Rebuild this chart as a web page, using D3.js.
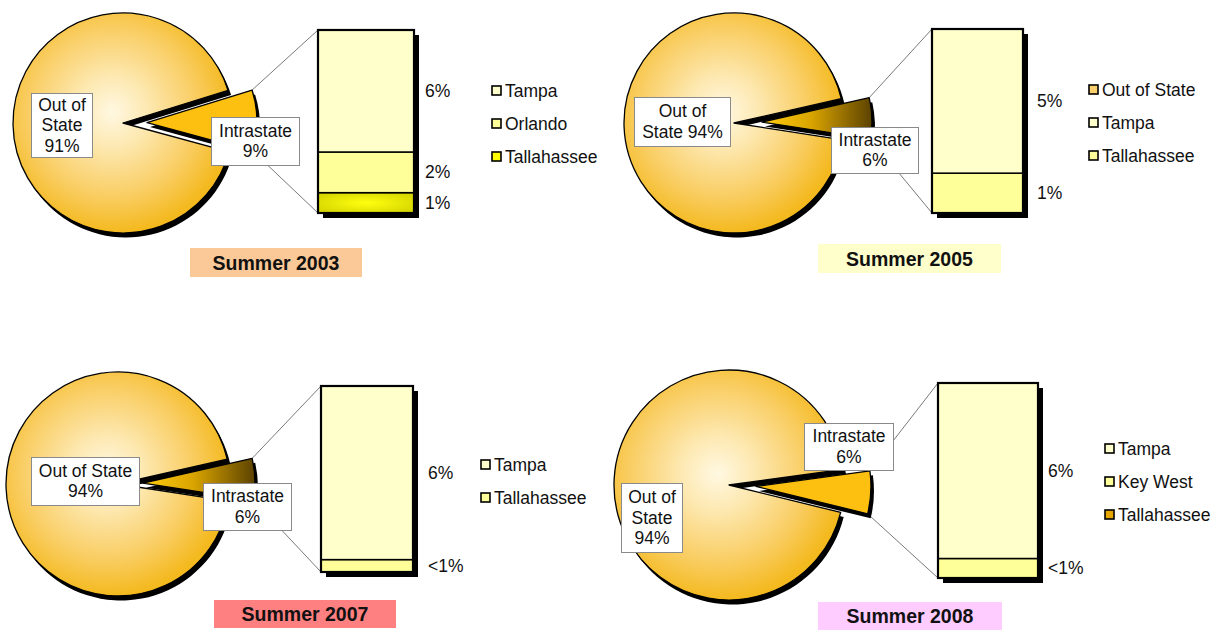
<!DOCTYPE html>
<html><head><meta charset="utf-8">
<script src="https://cdn.jsdelivr.net/npm/d3@7"></script>
<style>
html,body{margin:0;padding:0;background:#fff;}
svg{display:block;font-family:Arial,"Liberation Sans",sans-serif;}
</style></head>
<body><svg id="chart" width="1225" height="634"></svg>
<script>
// ---------- DATA ----------
const titles = ["Summer 2003", "Summer 2005", "Summer 2007", "Summer 2008"];
const outOfState = [91, 94, 94, 94];
const intrastate = [9, 6, 6, 6];

const cities2003 = ["Tampa", "Orlando", "Tallahassee"];
const values2003 = [6, 2, 1];
const labels2003 = ["6%", "2%", "1%"];

const cities2005 = ["Tampa", "Tallahassee"];
const values2005 = [4.7, 1.3];
const labels2005 = ["5%", "1%"];
const legend2005 = ["Out of State", "Tampa", "Tallahassee"];

const cities2007 = ["Tampa", "Tallahassee"];
const values2007 = [5.6, 0.4];
const labels2007 = ["6%", "<1%"];

const cities2008 = ["Tampa", "Key West", "Tallahassee"];
const values2008 = [5.4, 0.6, 0];
const labels2008 = ["6%", "<1%", ""];

const outLabelLines = [["Out of", "State", "91%"], ["Out of", "State 94%"], ["Out of State", "94%"], ["Out of", "State", "94%"]];
const inLabelLines = [["Intrastate", "9%"], ["Intrastate", "6%"], ["Intrastate", "6%"], ["Intrastate", "6%"]];

// ---------- STYLE / LAYOUT ----------
const cityColor = {
  "2003": {"Tampa": "#ffffcc", "Orlando": "#ffff99", "Tallahassee": "#ffff00"},
  "2005": {"Out of State": "#f9cf6e", "Tampa": "#ffffcc", "Tallahassee": "#ffff99"},
  "2007": {"Tampa": "#ffffcc", "Tallahassee": "#ffff99"},
  "2008": {"Tampa": "#ffffcc", "Key West": "#ffff99", "Tallahassee": "#e6a800"}
};

const panels = [
  {key: "2003", cities: cities2003, values: values2003, labels: labels2003, legend: cities2003,
   cx: 123, cy: 123, r: 110, bis: -1, explode: 24, wedge: "solid",
   bar: {x: 318, w: 96, top: 30, bottom: 213}, pctX: 425,
   leg: {x: 492, y: 91, dy: 33},
   title: {x: 190, y: 248, w: 172, h: 29, fill: "#fbc997"},
   outBox: {x: 31, y: 93, w: 61, h: 64}, inBox: {x: 211, y: 117, w: 88, h: 48}},
  {key: "2005", cities: cities2005, values: values2005, labels: labels2005, legend: legend2005,
   cx: 734, cy: 123, r: 110, bis: -2, explode: 28, wedge: "grad",
   bar: {x: 932, w: 91, top: 29, bottom: 213}, pctX: 1037,
   leg: {x: 1089, y: 90, dy: 33},
   title: {x: 818, y: 244, w: 183, h: 29, fill: "#ffffcc"},
   outBox: {x: 634, y: 97, w: 96, h: 49}, inBox: {x: 831, y: 127, w: 87, h: 46}},
  {key: "2007", cities: cities2007, values: values2007, labels: labels2007, legend: cities2007,
   cx: 118, cy: 484, r: 112, bis: -2, explode: 25, wedge: "grad",
   bar: {x: 321, w: 92, top: 386, bottom: 572}, pctX: 428,
   leg: {x: 481, y: 465, dy: 33},
   title: {x: 214, y: 600, w: 182, h: 28, fill: "#ff8080"},
   outBox: {x: 31, y: 457, w: 108, h: 48}, inBox: {x: 203, y: 483, w: 88, h: 47}},
  {key: "2008", cities: cities2008, values: values2008, labels: labels2008, legend: cities2008,
   cx: 729, cy: 485, r: 115, bis: 3, explode: 27, wedge: "solid",
   bar: {x: 938, w: 100, top: 383, bottom: 578}, pctX: 1048,
   leg: {x: 1105, y: 449, dy: 33},
   title: {x: 818, y: 602, w: 184, h: 28, fill: "#ffccff"},
   outBox: {x: 621, y: 483, w: 61, h: 69}, inBox: {x: 804, y: 423, w: 89, h: 47}}
];

const svg = d3.select("#chart");
const defs = svg.append("defs");

// wedge gradient (gold -> dark)
const wg = defs.append("linearGradient").attr("id", "wedgeGrad").attr("x1", 0).attr("x2", 1).attr("y1", 0).attr("y2", 0);
wg.append("stop").attr("offset", 0).attr("stop-color", "#ffcc10");
wg.append("stop").attr("offset", 0.45).attr("stop-color", "#d9a400");
wg.append("stop").attr("offset", 1).attr("stop-color", "#5c4200");

// yellow bar gradient
const yg = defs.append("radialGradient").attr("id", "yellowGrad").attr("cx", 0.5).attr("cy", 0.5).attr("r", 0.6);
yg.append("stop").attr("offset", 0).attr("stop-color", "#ffff10");
yg.append("stop").attr("offset", 1).attr("stop-color", "#d6d600");

// pie radial gradient
const rg = defs.append("radialGradient").attr("id", "pieGrad")
  .attr("cx", 0.45).attr("cy", 0.45).attr("r", 0.55);
rg.append("stop").attr("offset", 0).attr("stop-color", "#fff8e2");
rg.append("stop").attr("offset", 0.3).attr("stop-color", "#fde8b0");
rg.append("stop").attr("offset", 0.7).attr("stop-color", "#f9cd62");
rg.append("stop").attr("offset", 1).attr("stop-color", "#f4b91e");

const FS = 17.5;

panels.forEach((p, i) => {
  const g = svg.append("g");

  const w = intrastate[i] / (intrastate[i] + outOfState[i]) * 2 * Math.PI;
  const b = p.bis * Math.PI / 180;
  const start = b + Math.PI / 2 - w / 2;
  const pie = d3.pie().sort(null).value(d => d.v).startAngle(start).endAngle(start + 2 * Math.PI);
  const arcs = pie([{k: "in", v: intrastate[i]}, {k: "out", v: outOfState[i]}]);
  const arc = d3.arc().innerRadius(0).outerRadius(p.r);
  const ex = p.explode * Math.cos(b), ey = p.explode * Math.sin(b);
  const inArc = arcs[0], outArc = arcs[1];

  const pt = a => [p.r * Math.sin(a), -p.r * Math.cos(a)];
  const up = pt(inArc.startAngle), lo = pt(inArc.endAngle);
  const upTip = [p.cx + ex + up[0], p.cy + ey + up[1]];
  const loTip = [p.cx + ex + lo[0], p.cy + ey + lo[1]];

  // bar scale
  const total = d3.sum(p.values);
  const y = d3.scaleLinear().domain([0, total]).range([p.bar.bottom, p.bar.top]);

  // leader lines
  g.append("line").attr("x1", upTip[0]).attr("y1", upTip[1]).attr("x2", p.bar.x).attr("y2", p.bar.top)
    .attr("stroke", "#7a7a7a").attr("stroke-width", 1);
  g.append("line").attr("x1", loTip[0]).attr("y1", loTip[1]).attr("x2", p.bar.x).attr("y2", p.bar.bottom)
    .attr("stroke", "#7a7a7a").attr("stroke-width", 1);

  // pie
  const pg = g.append("g").attr("transform", `translate(${p.cx},${p.cy})`);
  pg.append("path").attr("d", arc(outArc)).attr("transform", "translate(3,4.5)").attr("fill", "#000");
  const wedgeG = g.append("g").attr("transform", `translate(${p.cx + ex},${p.cy + ey})`);
  wedgeG.append("path").attr("d", arc(inArc)).attr("transform", "translate(3,4.5)").attr("fill", "#000");
  const clipId = "clipOut" + i;
  defs.append("clipPath").attr("id", clipId).append("path").attr("d", arc(outArc));
  pg.append("circle").attr("r", p.r).attr("fill", "url(#pieGrad)").attr("clip-path", `url(#${clipId})`);
  pg.append("path").attr("d", arc(outArc)).attr("fill", "none")
    .attr("stroke", "#000").attr("stroke-width", 1.3).attr("stroke-linejoin", "round");
  wedgeG.append("path").attr("d", arc(inArc))
    .attr("fill", p.wedge === "grad" ? "url(#wedgeGrad)" : "#fdbf10")
    .attr("stroke", "#000").attr("stroke-width", 1.3).attr("stroke-linejoin", "round");

  // bar shadow
  g.append("rect").attr("x", p.bar.x + 5).attr("y", p.bar.top + 5)
    .attr("width", p.bar.w).attr("height", p.bar.bottom - p.bar.top).attr("fill", "#000");
  // stacked segments: first city on top
  const segs = p.cities.map((c, j) => ({c, v: p.values[j], lab: p.labels[j]})).reverse();
  let acc = 0;
  segs.forEach(s => { s.y0 = acc; s.y1 = acc + s.v; acc += s.v; });
  segs.filter(s => s.v > 0).forEach(s => {
    const col = cityColor[p.key][s.c];
    g.append("rect").attr("x", p.bar.x).attr("y", y(s.y1)).attr("width", p.bar.w)
      .attr("height", y(s.y0) - y(s.y1))
      .attr("fill", col === "#ffff00" ? "url(#yellowGrad)" : col)
      .attr("stroke", "#000").attr("stroke-width", 1.5);
  });
  g.append("rect").attr("x", p.bar.x).attr("y", p.bar.top).attr("width", p.bar.w)
    .attr("height", p.bar.bottom - p.bar.top).attr("fill", "none").attr("stroke", "#000").attr("stroke-width", 2.2);
  segs.filter(s => s.lab).forEach(s => {
    g.append("text").attr("x", p.pctX).attr("y", (y(s.y0) + y(s.y1)) / 2).attr("dy", "0.35em")
      .attr("font-size", FS).attr("fill", "#111").text(s.lab);
  });

  // legend
  p.legend.forEach((c, j) => {
    const ly = p.leg.y + j * p.leg.dy;
    g.append("rect").attr("x", p.leg.x).attr("y", ly - 5).attr("width", 9).attr("height", 9)
      .attr("fill", cityColor[p.key][c]).attr("stroke", "#000").attr("stroke-width", 1.6);
    g.append("text").attr("x", p.leg.x + 13).attr("y", ly).attr("dy", "0.35em")
      .attr("font-size", FS).attr("fill", "#111").text(c);
  });

  // label boxes
  const drawBox = (bx, lines) => {
    g.append("rect").attr("x", bx.x + 0.5).attr("y", bx.y + 0.5).attr("width", bx.w).attr("height", bx.h)
      .attr("fill", "#fff").attr("stroke", "#8a8a8a").attr("stroke-width", 1);
    const lh = 20.5;
    const y0 = bx.y + bx.h / 2 - (lines.length - 1) * lh / 2;
    lines.forEach((t, k) => {
      g.append("text").attr("x", bx.x + bx.w / 2 + 0.5).attr("y", y0 + k * lh).attr("dy", "0.35em")
        .attr("text-anchor", "middle").attr("font-size", FS).attr("fill", "#111").text(t);
    });
  };
  drawBox(p.outBox, outLabelLines[i]);
  drawBox(p.inBox, inLabelLines[i]);

  // title
  g.append("rect").attr("x", p.title.x).attr("y", p.title.y).attr("width", p.title.w).attr("height", p.title.h)
    .attr("fill", p.title.fill);
  g.append("text").attr("x", p.title.x + p.title.w / 2).attr("y", p.title.y + p.title.h / 2).attr("dy", "0.36em")
    .attr("text-anchor", "middle").attr("font-size", 19.5).attr("font-weight", "bold").attr("fill", "#111").text(titles[i]);
});
</script>
</body></html>
